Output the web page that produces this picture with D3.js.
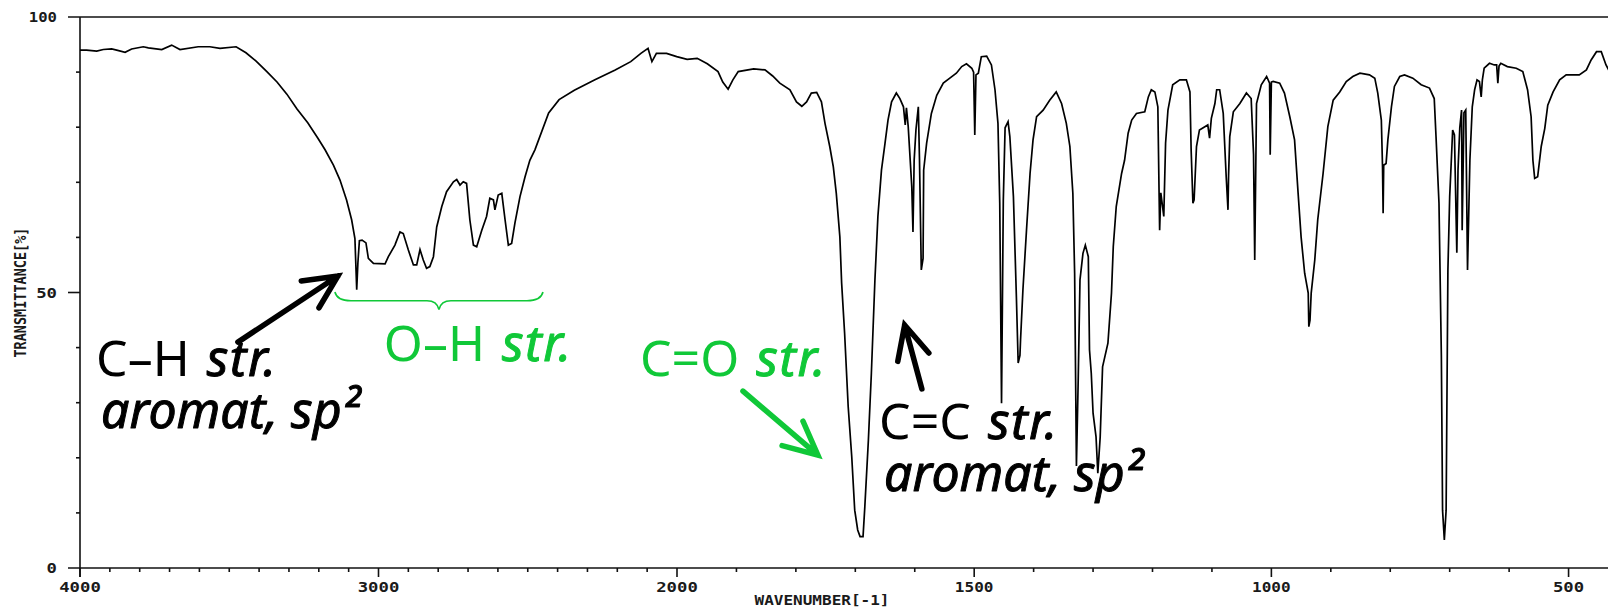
<!DOCTYPE html>
<html>
<head>
<meta charset="utf-8">
<script src="https://cdn.jsdelivr.net/npm/d3@7"></script>
<style>
  body { margin: 0; background: #fff; }
  svg { display: block; }
  .axis-text { font-family: "DejaVu Sans Mono", monospace; font-weight: bold; fill: #1a1a1a; }
  .note { font-family: "Noto Sans", "DejaVu Sans", sans-serif; font-size: 50px; }
  .note .it { font-style: italic; stroke-width: 1px; stroke-linejoin: round; }
</style>
</head>
<body>
<div id="ir_chart"></div>
<script>
// IR spectrum, [wavenumber (cm-1), transmittance (%)]
const spectrumHigh = [
  [4000,94.0],[3978,94.0],[3944,93.8],[3922,94.1],[3894,94.2],[3877,94.0],[3849,93.6],[3827,94.2],
  [3788,94.6],[3771,94.4],[3726,94.1],[3693,94.9],[3665,94.1],[3604,94.6],[3565,94.6],[3531,94.3],
  [3477,94.6],[3444,93.5],[3410,92.0],[3374,90.1],[3340,88.2],[3307,86.0],[3273,83.3],[3237,80.8],
  [3203,78.0],[3179,75.9],[3151,73.1],[3129,70.4],[3107,66.8],[3090,63.2],[3079,59.8],[3073,50.5],
  [3069,55.4],[3064,59.4],[3055,59.5],[3042,59.0],[3034,56.2],[3017,55.3],[2978,55.2],[2967,56.5],
  [2945,58.6],[2928,61.0],[2917,60.7],[2900,57.7],[2883,55.0],[2872,55.0],[2861,57.8],[2850,55.9],
  [2839,54.4],[2828,54.7],[2816,56.5],[2805,61.9],[2788,65.6],[2772,68.3],[2749,70.1],[2738,70.5],
  [2727,69.5],[2716,70.1],[2705,69.8],[2694,63.2],[2682,58.6],[2671,58.3],[2654,61.3],[2638,63.8],
  [2627,67.1],[2615,66.8],[2610,65.0],[2599,67.7],[2587,68.0],[2576,63.2],[2565,58.6],[2554,58.9],
  [2543,62.6],[2526,67.4],[2509,71.0],[2493,74.0],[2476,75.9],[2430,82.6],[2395,85.0],[2344,86.7],
  [2275,88.6],[2207,90.4],[2155,91.9],[2121,93.4],[2097,94.3],[2084,91.9],[2069,93.4],[2035,93.4],
  [2001,92.8]
];
const spectrumMid = [
  [1983,92.3],[1966,92.5],[1949,91.5],[1931,90.1],[1923,88.2],[1914,86.9],[1906,88.6],[1897,90.1],
  [1871,90.6],[1852,90.4],[1839,89.3],[1827,88.0],[1810,86.8],[1799,84.6],[1790,83.8],[1782,84.6],
  [1774,86.2],[1765,86.3],[1757,84.6],[1751,80.7],[1743,76.5],[1737,72.8],[1732,68.0],[1726,60.1],
  [1723,51.7],[1718,42.6],[1712,29.3],[1706,20.2],[1701,10.5],[1696,6.9],[1692,5.7],[1687,5.7],
  [1684,11.1],[1678,23.2],[1673,35.3],[1667,52.3],[1662,63.8],[1656,72.2],[1650,77.1],[1645,81.3],
  [1639,84.6],[1631,86.2],[1625,85.2],[1619,83.7],[1616,80.4],[1614,83.5],[1611,80.1],[1605,69.2],
  [1603,61.0],[1601,74.0],[1598,79.5],[1594,83.7],[1592,74.0],[1589,54.1],[1586,56.2],[1585,72.2],
  [1580,77.1],[1572,82.5],[1563,85.8],[1552,88.0],[1541,88.9],[1530,89.8],[1521,91.0],[1513,91.5],
  [1504,90.7],[1501,90.0],[1499,78.6],[1497,89.5],[1493,89.8],[1488,92.8],[1479,92.9],[1471,91.3],
  [1465,86.8],[1460,80.7],[1457,66.2],[1454,29.9],[1451,66.8],[1448,79.9],[1443,81.0],[1440,78.3],
  [1434,67.4],[1429,49.2],[1426,37.2],[1423,38.6],[1422,41.4],[1418,50.5],[1412,61.3],[1406,71.6],
  [1401,77.7],[1395,81.9],[1384,83.1],[1373,84.9],[1362,86.4],[1353,84.3],[1345,80.7],[1339,76.5],
  [1334,68.0],[1331,53.5],[1328,18.5],[1325,34.1],[1322,52.3],[1317,57.1],[1313,58.6],[1308,56.5],
  [1306,39.6],[1303,35.3],[1300,28.1]
];
const spectrumLow = [
  [1295,23.8],[1292,17.2],[1288,23.8],[1284,36.5],[1275,40.8],[1269,49.9],[1266,58.3],[1261,65.6],
  [1252,71.6],[1247,74.0],[1241,78.9],[1235,81.3],[1227,82.5],[1213,82.8],[1207,85.5],[1202,86.8],
  [1196,86.4],[1191,83.7],[1189,68.6],[1188,61.3],[1186,68.1],[1181,63.8],[1178,77.1],[1174,83.1],
  [1166,87.7],[1154,88.6],[1143,88.6],[1137,86.4],[1135,75.9],[1132,66.2],[1130,66.8],[1126,76.5],
  [1121,79.5],[1107,80.4],[1104,78.0],[1101,81.6],[1095,84.3],[1092,86.8],[1087,86.8],[1081,82.5],
  [1076,71.0],[1073,65.0],[1072,71.3],[1070,78.3],[1064,82.8],[1053,84.3],[1042,86.2],[1034,85.2],
  [1030,75.0],[1028,55.9],[1026,75.0],[1025,84.3],[1017,87.7],[1008,89.2],[1003,88.0],[1002,75.0],
  [1000,88.2],[997,88.3],[986,88.0],[978,86.2],[969,81.9],[961,77.7],[955,68.0],[950,60.1],
  [944,53.5],[938,49.9],[937,43.8],[935,45.0],[933,49.9],[927,55.9],[922,63.2],[913,71.6],
  [905,80.1],[896,84.9],[885,86.4],[874,88.3],[863,89.2],[851,89.8],[835,89.5],[826,88.9],
  [821,86.2],[815,81.3],[813,72.8],[812,64.4],[811,73.1],[807,73.4],[804,77.7],[798,83.7],
  [793,87.4],[784,89.2],[776,89.5],[762,88.9],[748,87.7],[734,87.1],[726,85.2],[723,78.3],
  [718,66.2],[714,38.3],[712,10.5],[709,5.1],[706,10.5],[703,54.1],[700,67.4],[697,74.6],
  [695,79.5],[692,78.6],[688,57.2],[686,72.2],[683,79.9],[680,83.1],[679,61.3],[676,82.6],
  [673,83.1],[670,54.1],[666,74.0],[662,83.7],[658,86.8],[654,88.6],[650,88.3],[647,85.5],
  [645,88.6],[642,90.7],[633,91.6],[625,91.3],[621,91.3],[619,88.0],[617,91.1],[614,91.6],
  [603,91.0],[588,90.7],[577,90.1],[569,86.8],[563,81.9],[560,74.0],[557,70.7],[552,71.0],
  [546,76.5],[540,79.8],[535,84.0],[526,86.4],[515,88.6],[504,89.5],[482,89.5],[470,90.4],
  [462,92.2],[453,93.7],[445,93.7],[437,91.3],[428,89.5]
];

// ticks and labels
const xMajorTicks = [4000, 3000, 2000, 1500, 1000, 500];
const xMinorTicks = d3.range(3900, 400, -100).filter(v => !xMajorTicks.includes(v));
const yMajorTicks = [0, 50, 100];
const yMinorTicks = [10, 20, 30, 40, 60, 70, 80, 90];
const xTitle = "WAVENUMBER[-1]";
const yTitle = "TRANSMITTANCE[%]";

// annotations, placed in data space (wavenumber, %T)
const green = "#10c838";
const notes = [
  { head: "C\u2013H", tail: "str.", line2: "aromat, sp\u00b2", wn: 3946, t: 34.8, color: "#000" },
  { head: "O\u2013H", tail: "str.", line2: null, wn: 2982, t: 37.6, color: green },
  { head: "C=O", tail: "str.", line2: null, wn: 2124, t: 34.9, color: green },
  { head: "C=C", tail: "str.", line2: "aromat, sp\u00b2", wn: 1660, t: 23.4, color: "#000" }
];
const arrows = [
  { from: [3471, 41.0], to: [3136, 53.0], color: "#000" },
  { from: [1889, 32.1], to: [1763, 20.5], color: green },
  { from: [1588, 32.5], to: [1617, 44.1], color: "#000" }
];
const brace = { from: 3146, to: 2449, t: 50.1, color: green };

const W = 1608, H = 609;

let svg = d3.select("#ir_chart")
  .append("svg")
  .attr("width", W)
  .attr("height", H);

// scales: the abscissa is compressed 2:1 above 2000 cm-1
var x = d3.scaleLinear().domain([4000, 2000, 400]).range([80, 677, 1628]);
var y = d3.scaleLinear().domain([0, 100]).range([568, 17]);

// label width helper for the blocky instrument font
function labelWidth(s) {
  let ones = s.split("").filter(c => c === "1").length;
  return s.length * 10.4 - ones * 3;
}

// frame lines
let frame = svg.append("g").attr("stroke", "#111").attr("stroke-width", 1.6);
frame.append("line").attr("x1", 68).attr("x2", W).attr("y1", y(100)).attr("y2", y(100));
frame.append("line").attr("x1", 68).attr("x2", W).attr("y1", y(0)).attr("y2", y(0));
frame.append("line").attr("x1", x(4000)).attr("x2", x(4000)).attr("y1", y(100)).attr("y2", y(0) + 9);

// x ticks
let xg = svg.append("g").attr("stroke", "#111").attr("stroke-width", 1.6);
xg.selectAll(".minor").data(xMinorTicks).join("line")
  .attr("x1", d => x(d)).attr("x2", d => x(d))
  .attr("y1", y(0)).attr("y2", y(0) + 4);
xg.selectAll(".major").data(xMajorTicks).join("line")
  .attr("x1", d => x(d)).attr("x2", d => x(d))
  .attr("y1", y(0)).attr("y2", y(0) + 9);
svg.selectAll(".xlab").data(xMajorTicks).join("text")
  .attr("class", "axis-text xlab")
  .attr("x", d => x(d))
  .attr("y", y(0) + 24)
  .attr("text-anchor", "middle")
  .attr("font-size", 13.5)
  .attr("textLength", d => labelWidth(String(d)))
  .attr("lengthAdjust", "spacingAndGlyphs")
  .text(d => d);

// y ticks
let yg = svg.append("g").attr("stroke", "#111").attr("stroke-width", 1.6);
yg.selectAll("line").data(yMinorTicks).join("line")
  .attr("x1", x(4000) - 4).attr("x2", x(4000))
  .attr("y1", d => y(d)).attr("y2", d => y(d));
frame.append("line").attr("x1", 68).attr("x2", x(4000)).attr("y1", y(50)).attr("y2", y(50));
svg.selectAll(".ylab").data(yMajorTicks).join("text")
  .attr("class", "axis-text ylab")
  .attr("x", 57)
  .attr("y", d => y(d) + 5)
  .attr("text-anchor", "end")
  .attr("font-size", 13.5)
  .attr("textLength", d => labelWidth(String(d)))
  .attr("lengthAdjust", "spacingAndGlyphs")
  .text(d => d);

// axis titles
svg.append("text")
  .attr("class", "axis-text")
  .attr("x", 822).attr("y", 605)
  .attr("text-anchor", "middle")
  .attr("font-size", 14.5)
  .attr("textLength", 135)
  .attr("lengthAdjust", "spacingAndGlyphs")
  .text(xTitle);
svg.append("text")
  .attr("class", "axis-text")
  .attr("transform", "translate(26," + y(50) + ") rotate(-90)")
  .attr("text-anchor", "middle")
  .attr("font-size", 15)
  .attr("textLength", 130)
  .attr("lengthAdjust", "spacingAndGlyphs")
  .text(yTitle);

// annotation text
notes.forEach(n => {
  let t = svg.append("text")
    .attr("class", "note")
    .attr("x", x(n.wn))
    .attr("y", y(n.t))
    .attr("fill", n.color);
  t.append("tspan").text(n.head);
  t.append("tspan").attr("class", "it")
    .attr("dx", 17)
    .attr("letter-spacing", 1.5)
    .attr("stroke", n.color)
    .text(n.tail);
  if (n.line2) {
    t.append("tspan").attr("class", "it")
      .attr("x", x(n.wn) + 5).attr("dy", "1.04em")
      .attr("stroke", n.color)
      .text(n.line2);
  }
});

// spectrum trace
var line = d3.line()
  .x(d => x(d[0]))
  .y(d => y(d[1]));
svg.append("path")
  .datum(spectrumHigh.concat(spectrumMid, spectrumLow))
  .attr("fill", "none")
  .attr("stroke", "#000")
  .attr("stroke-width", 1.7)
  .attr("stroke-linejoin", "miter")
  .attr("d", line);

// arrows
function arrowPath(x1, y1, x2, y2) {
  let a = Math.atan2(y1 - y2, x1 - x2), len = 37, ang = 0.45;
  let b1 = [x2 + len * Math.cos(a + ang), y2 + len * Math.sin(a + ang)];
  let b2 = [x2 + len * Math.cos(a - ang), y2 + len * Math.sin(a - ang)];
  return "M" + x1 + "," + y1 + "L" + x2 + "," + y2 +
    "M" + b1 + "L" + x2 + "," + y2 + "L" + b2;
}
svg.selectAll(".arrow").data(arrows).join("path")
  .attr("class", "arrow")
  .attr("fill", "none")
  .attr("stroke", d => d.color)
  .attr("stroke-width", 5.5)
  .attr("stroke-linecap", "round")
  .attr("stroke-linejoin", "miter")
  .attr("d", d => arrowPath(x(d.from[0]), y(d.from[1]), x(d.to[0]), y(d.to[1])));

// curly brace under the O-H band
let bx1 = x(brace.from), bx2 = x(brace.to), by = y(brace.t), mid = (bx1 + bx2) / 2, h = 17.5;
svg.append("path")
  .attr("fill", "none")
  .attr("stroke", brace.color)
  .attr("stroke-width", 1.6)
  .attr("d", "M" + bx1 + "," + by +
    "Q" + (bx1 + 2) + "," + (by + h / 2) + " " + (bx1 + 16) + "," + (by + h / 2) +
    "L" + (mid - 12) + "," + (by + h / 2) +
    "Q" + (mid - 2) + "," + (by + h / 2) + " " + mid + "," + (by + h) +
    "Q" + (mid + 2) + "," + (by + h / 2) + " " + (mid + 12) + "," + (by + h / 2) +
    "L" + (bx2 - 16) + "," + (by + h / 2) +
    "Q" + (bx2 - 2) + "," + (by + h / 2) + " " + bx2 + "," + by);
</script>
</body>
</html>
